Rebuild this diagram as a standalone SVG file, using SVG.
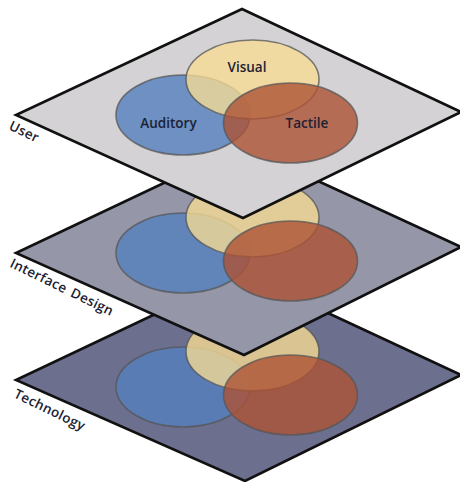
<svg xmlns="http://www.w3.org/2000/svg" width="460" height="482" viewBox="0 0 460 482">
<style>
.plane{stroke:#111;stroke-width:2.6;stroke-linejoin:miter}
.el{stroke:#555;stroke-opacity:0.75;stroke-width:1.6}
.v{fill:#f7dc93;fill-opacity:0.78}
.a{fill:#5480bd;fill-opacity:0.8}
.t{fill:#ad5334;fill-opacity:0.8}
.lbl{font-family:"Open Sans","Liberation Sans",sans-serif;font-weight:600;font-size:13.5px;fill:#1c2234}
.side{font-family:"Open Sans","Liberation Sans",sans-serif;font-weight:600;font-size:13.5px;letter-spacing:0.3px;word-spacing:2px;fill:#1c2234}
</style>
<rect width="460" height="482" fill="#ffffff"/>
<g id="technology">
<path class="plane" d="M242,273 L461,375 L245,481 L16,380 Z" fill="#6d6f8f"/>
<ellipse class="el a" cx="183" cy="387" rx="67" ry="40"/>
<ellipse class="el v" cx="252.5" cy="351.5" rx="66.5" ry="39.5"/>
<ellipse class="el t" cx="290.5" cy="395" rx="67" ry="40"/>
<text class="side" x="13" y="397" transform="rotate(26 13 397)">Technology</text>
</g>
<g id="interface-design">
<path class="plane" d="M242,146 L461,247 L244,355 L16,253 Z" fill="#9597a8"/>
<ellipse class="el a" cx="183" cy="253" rx="67" ry="40"/>
<ellipse class="el v" cx="252.5" cy="217.5" rx="66.5" ry="39.5"/>
<ellipse class="el t" cx="290.5" cy="261" rx="67" ry="40"/>
<text class="side" x="9" y="266.5" transform="rotate(26 9 266.5)">Interface Design</text>
</g>
<g id="user">
<path class="plane" d="M242,9 L461,112 L243,218 L16,115 Z" fill="#d4d2d4"/>
<g id="auditory">
<ellipse class="el a" cx="183" cy="115" rx="67" ry="40"/>
</g>
<g id="visual">
<ellipse class="el v" cx="252.5" cy="79.5" rx="66.5" ry="39.5"/>
</g>
<g id="tactile">
<ellipse class="el t" cx="290.5" cy="123" rx="67" ry="40"/>
</g>
<text class="lbl" x="247" y="72" text-anchor="middle">Visual</text>
<text class="lbl" x="168.5" y="128" text-anchor="middle">Auditory</text>
<text class="lbl" x="307" y="128" text-anchor="middle">Tactile</text>
<text class="side" x="8" y="129" transform="rotate(26 8 129)">User</text>
</g>
</svg>
